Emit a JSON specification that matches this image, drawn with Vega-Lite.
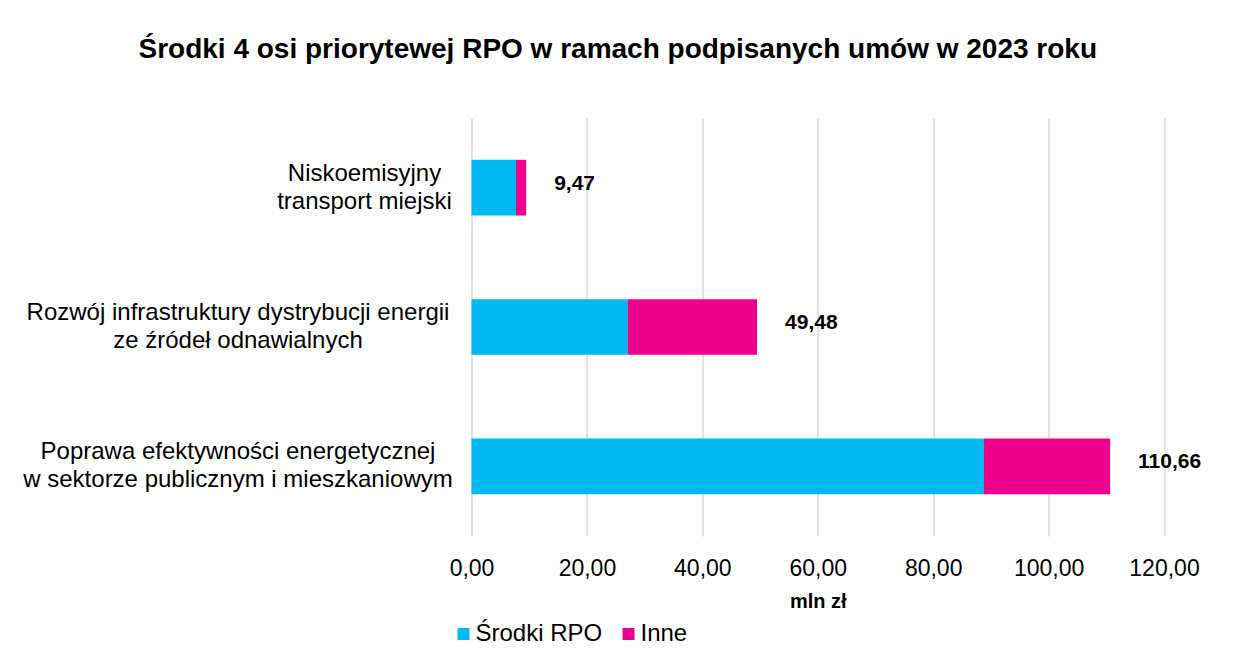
{
  "$schema": "https://vega.github.io/schema/vega-lite/v6.json",
  "autosize": {"type": "none"},
  "width": 692.5,
  "height": 418,
  "padding": {"left": 471.5, "top": 118, "right": 69, "bottom": 132},
  "background": "white",
  "title": {
    "text": "Środki 4 osi priorytewej RPO w ramach podpisanych umów w 2023 roku",
    "font": "Liberation Sans",
    "fontSize": 28,
    "fontWeight": "bold",
    "color": "#000000",
    "anchor": "middle",
    "frame": "group",
    "dx": -200,
    "offset": 54
  },
  "data": {
    "values": [
      {"kat": "Niskoemisyjny|transport miejski", "seria": "Środki RPO", "val": 7.71},
      {"kat": "Niskoemisyjny|transport miejski", "seria": "Inne", "val": 1.76},
      {"kat": "Rozwój infrastruktury dystrybucji energii|ze źródeł odnawialnych", "seria": "Środki RPO", "val": 27.05},
      {"kat": "Rozwój infrastruktury dystrybucji energii|ze źródeł odnawialnych", "seria": "Inne", "val": 22.43},
      {"kat": "Poprawa efektywności energetycznej|w sektorze publicznym i mieszkaniowym", "seria": "Środki RPO", "val": 88.8},
      {"kat": "Poprawa efektywności energetycznej|w sektorze publicznym i mieszkaniowym", "seria": "Inne", "val": 21.86}
    ]
  },
  "encoding": {
    "y": {
      "field": "kat",
      "type": "nominal",
      "sort": [
        "Niskoemisyjny|transport miejski",
        "Rozwój infrastruktury dystrybucji energii|ze źródeł odnawialnych",
        "Poprawa efektywności energetycznej|w sektorze publicznym i mieszkaniowym"
      ],
      "scale": {"paddingInner": 0.6, "paddingOuter": 0.3},
      "axis": {
        "title": null,
        "domain": false,
        "ticks": false,
        "grid": false,
        "labelExpr": "split(datum.label, '|')",
        "labelFont": "Liberation Sans",
        "labelFontSize": 24,
        "labelColor": "#000000",
        "labelLineHeight": 28,
        "labelAlign": "center",
        "labelBaseline": "middle",
        "labelOffset": -14,
        "labelLimit": 0,
        "labelPadding": {
          "condition": {"test": "indexof(datum.value, 'Nisko') >= 0", "value": 107.5},
          "value": 234
        }
      }
    }
  },
  "layer": [
    {
      "mark": {"type": "bar"},
      "encoding": {
        "x": {
          "field": "val",
          "type": "quantitative",
          "stack": "zero",
          "scale": {"domain": [0, 120], "nice": false},
          "axis": {
            "title": "mln zł",
            "titleFont": "Liberation Sans",
            "titleFontSize": 20,
            "titleFontWeight": "bold",
            "titleColor": "#000000",
            "titlePadding": 11,
            "values": [0, 20, 40, 60, 80, 100, 120],
            "format": ".2f",
            "labelFont": "Liberation Sans",
            "labelFontSize": 23,
            "labelColor": "#000000",
            "labelPadding": 21,
            "labelFlush": false,
            "domain": false,
            "ticks": false,
            "grid": true,
            "gridColor": "#d9d9d9",
            "gridWidth": 1.5
          }
        },
        "color": {
          "field": "seria",
          "type": "nominal",
          "scale": {"domain": ["Środki RPO", "Inne"], "range": ["#00B9F1", "#EC008C"]},
          "legend": {
            "title": null,
            "orient": "none",
            "direction": "horizontal",
            "legendX": -20,
            "legendY": 504,
            "padding": 0,
            "symbolType": "square",
            "symbolSize": 144,
            "symbolStrokeWidth": 0,
            "labelFont": "Liberation Sans",
            "labelFontSize": 24,
            "labelColor": "#000000",
            "labelOffset": 0,
            "columnPadding": 14
          }
        },
        "order": {"field": "seria", "sort": "descending"}
      }
    },
    {
      "transform": [
        {"aggregate": [{"op": "sum", "field": "val", "as": "total"}], "groupby": ["kat"]}
      ],
      "mark": {
        "type": "text",
        "align": "left",
        "baseline": "middle",
        "dx": 28,
        "dy": -4,
        "font": "Liberation Sans",
        "fontSize": 21,
        "fontWeight": "bold",
        "color": "#000000"
      },
      "encoding": {
        "x": {"field": "total", "type": "quantitative"},
        "text": {"field": "total", "type": "quantitative", "format": ".2f"}
      }
    }
  ],
  "config": {
    "locale": {
      "number": {"decimal": ",", "thousands": " ", "grouping": [3], "currency": ["", " zł"]}
    },
    "view": {"stroke": null}
  }
}
